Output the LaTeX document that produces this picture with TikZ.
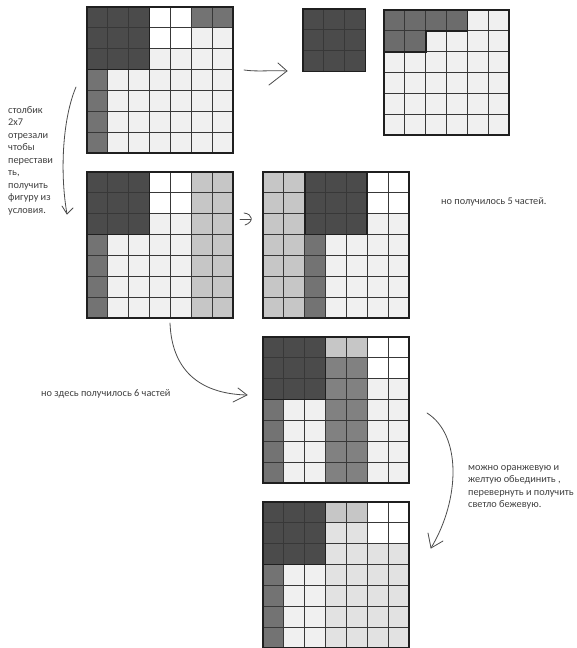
\documentclass[tikz,border=0pt]{standalone}
\usepackage{fontspec}
\setmainfont{Carlito}
\definecolor{dk}{HTML}{4B4B4B}
\definecolor{md}{HTML}{737373}
\definecolor{tg}{HTML}{6C6C6C}
\definecolor{lg}{HTML}{C6C6C6}
\definecolor{lt}{HTML}{F0F0F0}
\definecolor{bg}{HTML}{E2E2E2}
\definecolor{mf}{HTML}{818181}
\newcommand\gridlns[2]{%
  \foreach \i in {0,...,#1} {\draw[gl] (\i,0) -- (\i,#2);}
  \foreach \j in {0,...,#2} {\draw[gl] (0,\j) -- (#1,\j);}}
\begin{document}
\begin{tikzpicture}[x=1pt,y=-1pt,
  gl/.style={draw=black!78,line width=1pt},
  ob/.style={draw=black!88,line width=1.6pt},
  hand/.style={draw=black!70,line width=0.8pt,line cap=round,line join=round},
  lbl/.style={font=\fontsize{10.3}{12.5}\selectfont,text=black!75,inner sep=0pt},
  cellsc/.style={x=20.85pt,y=-20.85pt}]
\useasboundingbox (0,0) rectangle (576,648);
\fill[white] (0,0) rectangle (576,648);

% grid 1
\begin{scope}[shift={(87,7)},cellsc]
  \fill[lt] (0,0) rectangle (7,7);
  \fill[dk] (0,0) rectangle (3,3);
  \fill[white] (3,0) rectangle (5,2);
  \fill[md] (5,0) rectangle (7,1);
  \fill[md] (0,3) rectangle (1,7);
  \gridlns{7}{7}
  \draw[ob] (0,0) rectangle (3,3);
  \draw[ob] (0,0) rectangle (7,7);
\end{scope}

% small square
\begin{scope}[shift={(303,9)},cellsc]
  \fill[dk] (0,0) rectangle (3,3);
  \gridlns{3}{3}
  \draw[ob] (0,0) rectangle (3,3);
\end{scope}

% top right grid
\begin{scope}[shift={(384,10)},cellsc]
  \fill[lt] (0,0) rectangle (6,6);
  \fill[tg] (0,0) rectangle (4,1);
  \fill[tg] (0,1) rectangle (2,2);
  \gridlns{6}{6}
  \draw[ob] (0,0) -- (4,0) -- (4,1) -- (2,1) -- (2,2) -- (0,2) -- cycle;
  \draw[ob] (0,0) rectangle (6,6);
\end{scope}

% grid 2
\begin{scope}[shift={(87,172)},cellsc]
  \fill[lt] (0,0) rectangle (7,7);
  \fill[dk] (0,0) rectangle (3,3);
  \fill[white] (3,0) rectangle (5,2);
  \fill[lg] (5,0) rectangle (7,7);
  \fill[md] (0,3) rectangle (1,7);
  \gridlns{7}{7}
  \draw[ob] (0,0) rectangle (3,3);
  \draw[ob] (0,0) rectangle (7,7);
\end{scope}

% grid 3
\begin{scope}[shift={(263,172)},cellsc]
  \fill[lt] (0,0) rectangle (7,7);
  \fill[lg] (0,0) rectangle (2,7);
  \fill[dk] (2,0) rectangle (5,3);
  \fill[md] (2,3) rectangle (3,7);
  \fill[white] (5,0) rectangle (7,2);
  \gridlns{7}{7}
  \draw[ob] (2,0) rectangle (5,3);
  \draw[ob] (0,0) rectangle (7,7);
\end{scope}

% grid 4
\begin{scope}[shift={(263,337)},cellsc]
  \fill[lt] (0,0) rectangle (7,7);
  \fill[dk] (0,0) rectangle (3,3);
  \fill[md] (0,3) rectangle (1,7);
  \fill[lg] (3,0) rectangle (5,1);
  \fill[mf] (3,1) rectangle (5,7);
  \fill[white] (5,0) rectangle (7,2);
  \gridlns{7}{7}
  \draw[ob] (0,0) rectangle (3,3);
  \draw[ob] (0,0) rectangle (7,7);
\end{scope}

% grid 5
\begin{scope}[shift={(263,502)},cellsc]
  \fill[bg] (0,0) rectangle (7,7);
  \fill[lt] (1,3) rectangle (3,7);
  \fill[dk] (0,0) rectangle (3,3);
  \fill[md] (0,3) rectangle (1,7);
  \fill[lg] (3,0) rectangle (5,1);
  \fill[white] (5,0) rectangle (7,2);
  \gridlns{7}{7}
  \draw[ob] (0,0) rectangle (3,3);
  \draw[ob] (0,0) rectangle (7,7);
\end{scope}

% texts
\node[lbl,anchor=north west,align=left] (t1) at (8,106)
  {столбик\\2х7\\отрезали\\чтобы\\перестави\\ть,\\получить\\фигуру из\\условия.};
\node[lbl,anchor=west] (t2) at (441,202) {но получилось 5 частей.};
\node[lbl,anchor=west] (t3) at (41,394) {но здесь получилось 6 частей};
\node[lbl,anchor=north west,align=left] (t4) at (468,465)
  {можно оранжевую и\\желтую обьединить ,\\перевернуть и получить\\светло бежевую.};

% hand-drawn arrows
\coordinate (a1s) at (244,70);
\coordinate (a1e) at (287,71);
\draw[hand] (a1s) .. controls (258,72) and (272,70) .. (a1e);
\draw[hand] (278,63) -- (a1e) -- (269,85);

\coordinate (a2s) at (244,213);
\draw[hand] (a2s) .. controls (253,214) and (254,222) .. (245,225);
\draw[hand] (240,219) -- (251,219);

\coordinate (a3s) at (76,87);
\coordinate (a3e) at (67,214);
\draw[hand] (a3s) .. controls (62,120) and (60,175) .. (a3e);
\draw[hand] (62,206) -- (a3e) -- (73,208);

\coordinate (a4s) at (170,323);
\coordinate (a4e) at (247,395);
\draw[hand] (a4s) .. controls (172,375) and (205,394) .. (a4e);
\draw[hand] (238,388) -- (a4e) -- (233,402);

\coordinate (a5s) at (427,413);
\coordinate (a5e) at (431,548);
\draw[hand] (a5s) .. controls (462,435) and (460,500) .. (a5e);
\draw[hand] (428,533) -- (a5e) -- (443,541);
\end{tikzpicture}
\end{document}
